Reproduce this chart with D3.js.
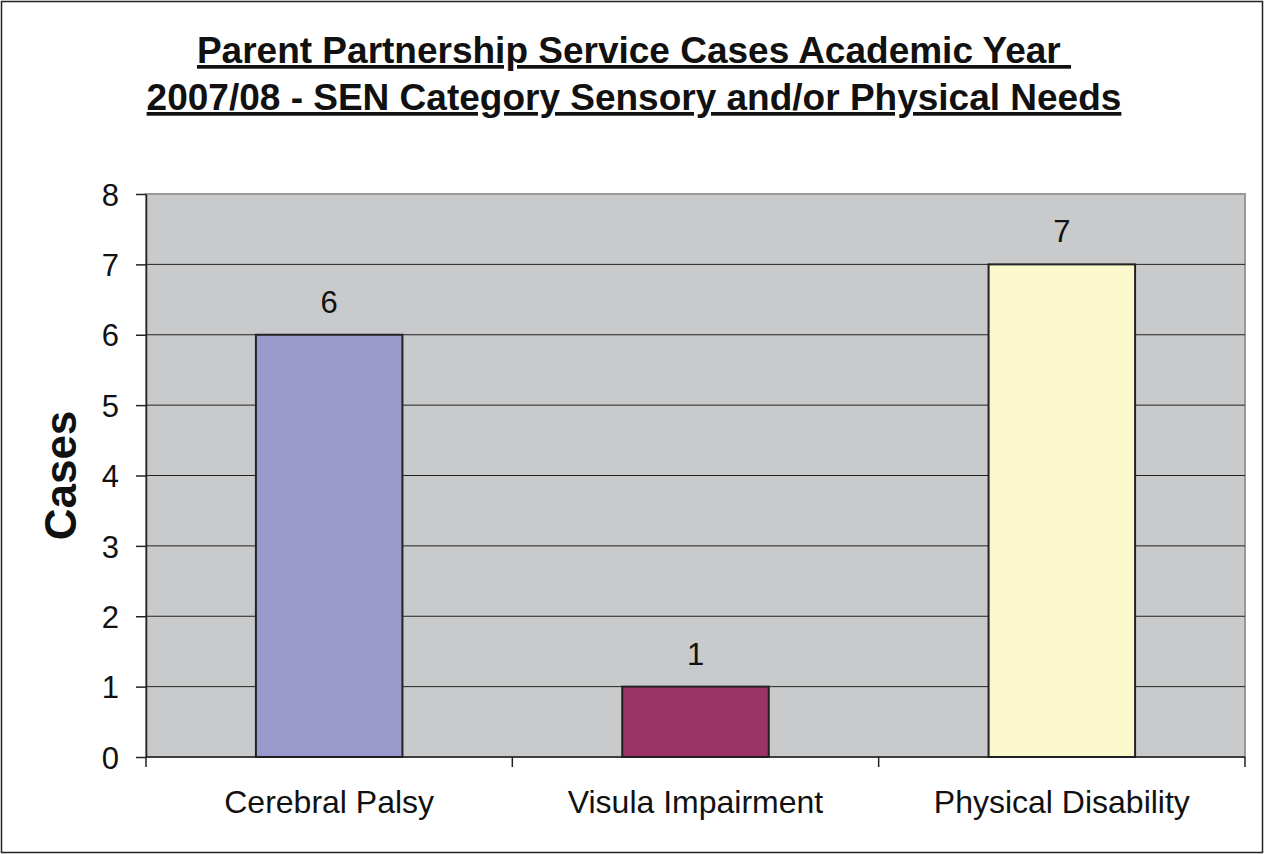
<!DOCTYPE html>
<html><head><meta charset="utf-8">
<script src="https://cdn.jsdelivr.net/npm/d3@7"></script>
<style>body{margin:0;background:#fff}svg{display:block}text{font-family:"Liberation Sans",Arial,sans-serif}</style>
</head><body>
<script>
const categories = ["Cerebral Palsy", "Visula Impairment", "Physical Disability"];
const values = [6, 1, 7];
const barColors = ["#9999cc", "#993366", "#fbf8cc"];
const yTicks = [0, 1, 2, 3, 4, 5, 6, 7, 8];
const titleLines = ["Parent Partnership Service Cases Academic Year ", "2007/08 - SEN Category Sensory and/or Physical Needs"];
const yLabel = "Cases";

const W = 1264, H = 854;
const svg = d3.select("body").append("svg").attr("width", W).attr("height", H);
svg.append("rect").attr("x", 1.5).attr("y", 1.5).attr("width", W - 3).attr("height", H - 3)
  .attr("fill", "#fff").attr("stroke", "#222").attr("stroke-width", 1.5);

const L = 146, R = 1245, T = 194, B = 757;
const x = d3.scaleBand().domain(categories).range([L, R]).paddingInner(0.6).paddingOuter(0.3);
const y = d3.scaleLinear().domain([0, 8]).range([B, T]);

svg.append("rect").attr("x", L).attr("y", T).attr("width", R - L).attr("height", B - T)
  .attr("fill", "#c9cacc").attr("stroke", "#999").attr("stroke-width", 2);

svg.append("g").selectAll("line").data(yTicks.filter(d => d > 0 && d < 8)).join("line")
  .attr("x1", L).attr("x2", R).attr("y1", d => y(d)).attr("y2", d => y(d))
  .attr("stroke", "#222").attr("stroke-width", 1);

svg.append("g").selectAll("rect").data(values).join("rect")
  .attr("x", (d, i) => x(categories[i])).attr("width", x.bandwidth())
  .attr("y", d => y(d)).attr("height", d => y(0) - y(d))
  .attr("fill", (d, i) => barColors[i]).attr("stroke", "#222").attr("stroke-width", 2);

svg.append("g").selectAll("text").data(values).join("text")
  .attr("x", (d, i) => x(categories[i]) + x.bandwidth() / 2).attr("y", d => y(d) - 22)
  .attr("text-anchor", "middle").attr("font-size", 31).attr("fill", "#111").text(d => d);

// y axis
const ya = svg.append("g").attr("transform", `translate(${L},0)`)
  .call(d3.axisLeft(y).tickValues(yTicks).tickSize(10).tickPadding(17).tickSizeOuter(0));
ya.select(".domain").attr("stroke", "#222").attr("stroke-width", 1.5);
ya.selectAll(".tick line").attr("stroke", "#222").attr("stroke-width", 1.5);
ya.selectAll(".tick text").attr("font-size", 31).attr("fill", "#111").attr("font-family", "Liberation Sans, Arial, sans-serif").attr("dy", "0.36em");

// x axis
const step = x.step();
const bounds = [L, L + step, L + 2 * step, R];
const xa = svg.append("g").attr("transform", `translate(0,${B})`);
xa.append("line").attr("x1", L).attr("x2", R).attr("stroke", "#222").attr("stroke-width", 1.5);
xa.selectAll("line.t").data(bounds).join("line").attr("class", "t")
  .attr("x1", d => d).attr("x2", d => d).attr("y1", 0).attr("y2", 10).attr("stroke", "#222").attr("stroke-width", 1.5);
xa.selectAll("text").data(categories).join("text")
  .attr("x", d => x(d) + x.bandwidth() / 2).attr("y", 56)
  .attr("text-anchor", "middle").attr("font-size", 32).attr("fill", "#111").text(d => d);

// title
svg.append("g").selectAll("text").data(titleLines).join("text")
  .attr("x", 634).attr("y", (d, i) => 63 + i * 47)
  .attr("text-anchor", "middle").attr("font-size", 37).attr("font-weight", "bold")
  .attr("text-decoration", "underline").attr("fill", "#111")
  .style("white-space", "pre").text(d => d);

svg.append("text").attr("transform", `translate(76,${(T + B) / 2}) rotate(-90)`)
  .attr("text-anchor", "middle").attr("font-size", 44).attr("font-weight", "bold").attr("fill", "#111").text(yLabel);
</script>
</body></html>
